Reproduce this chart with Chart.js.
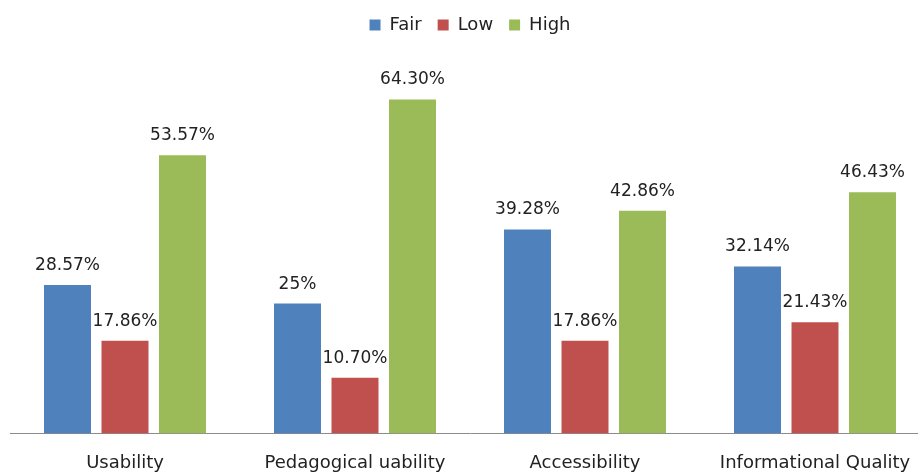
<!DOCTYPE html>
<html>
<head>
<meta charset="utf-8">
<script src="https://cdn.jsdelivr.net/npm/chart.js@4"></script>
<style>
html,body{margin:0;padding:0;background:#fff;overflow:hidden;width:918px;height:472px;}
#wrap{width:930px;height:472px;}
</style>
</head>
<body>
<div id="wrap"><canvas id="c" width="930" height="472"></canvas></div>
<script>
const categories = ["Usability", "Pedagogical uability", "Accessibility", "Informational Quality"];
const fairValues = [28.57, 25, 39.28, 32.14];
const lowValues = [17.86, 10.70, 17.86, 21.43];
const highValues = [53.57, 64.30, 42.86, 46.43];
const fairLabels = ["28.57%", "25%", "39.28%", "32.14%"];
const lowLabels = ["17.86%", "10.70%", "17.86%", "21.43%"];
const highLabels = ["53.57%", "64.30%", "42.86%", "46.43%"];
const seriesNames = ["Fair", "Low", "High"];

const FONT = "'DejaVu Sans', sans-serif";

const valueLabels = {
  id: 'valueLabels',
  afterDatasetsDraw(chart) {
    const ctx = chart.ctx;
    const all = [fairLabels, lowLabels, highLabels];
    ctx.save();
    ctx.font = "17px " + FONT;
    ctx.fillStyle = "#222";
    ctx.textAlign = "center";
    ctx.textBaseline = "bottom";
    chart.data.datasets.forEach((ds, i) => {
      const meta = chart.getDatasetMeta(i);
      meta.data.forEach((bar, j) => {
        const p = bar.getProps(['x', 'y'], true);
        ctx.fillText(all[i][j], p.x, p.y - 11);
      });
    });
    ctx.restore();
  }
};

new Chart(document.getElementById('c'), {
  type: 'bar',
  data: {
    labels: categories,
    datasets: [
      {label: seriesNames[0], data: fairValues, backgroundColor: '#4F81BD'},
      {label: seriesNames[1], data: lowValues, backgroundColor: '#C0504D'},
      {label: seriesNames[2], data: highValues, backgroundColor: '#9BBB59'}
    ]
  },
  options: {
    responsive: false,
    devicePixelRatio: 1,
    animation: false,
    layout: {padding: {left: 10, right: 0, top: 0, bottom: -21}},
    datasets: {bar: {categoryPercentage: 0.75, barPercentage: 0.817}},
    plugins: {
      legend: {
        position: 'top',
        labels: {
          font: {family: FONT, size: 18},
          color: '#222',
          boxWidth: 11,
          boxHeight: 11,
          padding: 16
        }
      },
      tooltip: {enabled: false}
    },
    scales: {
      x: {
        grid: {display: false, drawTicks: false},
        border: {display: true, color: '#8c8c8c', width: 1},
        ticks: {font: {family: FONT, size: 18}, color: '#222', padding: 19, maxRotation: 0, autoSkip: false}
      },
      y: {
        display: false,
        min: 0,
        max: 75
      }
    }
  },
  plugins: [valueLabels]
});
</script>
</body>
</html>
